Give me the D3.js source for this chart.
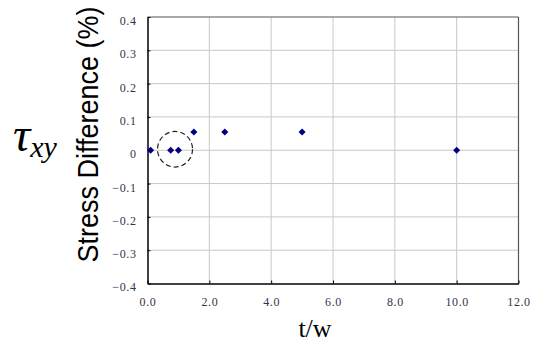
<!DOCTYPE html>
<html><head><meta charset="utf-8">
<script src="https://d3js.org/d3.v7.min.js"></script>
<style>html,body{margin:0;padding:0;background:#fff;}svg{display:block;}
.serif{font-family:'Liberation Serif','Times New Roman','DejaVu Serif',serif;}
.sans{font-family:'Liberation Sans',Arial,sans-serif;}
</style>
</head><body>
<script>
const tw = [0.1, 0.75, 1.0, 1.5, 2.5, 5.0, 10.0];
const stressDiff = [0.0, 0.0, 0.0, 0.055, 0.055, 0.055, 0.0];
const xTicks = [0, 2, 4, 6, 8, 10, 12];
const yTicks = [-0.4, -0.3, -0.2, -0.1, 0, 0.1, 0.2, 0.3, 0.4];
const circled = {x: 0.89, y: 0.0};

const W = 537, H = 349;
const svg = d3.select("body").append("svg").attr("width", W).attr("height", H);
const L = 147.5, R = 518.5, T = 17, B = 283.5;
const x = d3.scaleLinear().domain([0, 12]).range([L, R]);
const y = d3.scaleLinear().domain([-0.4, 0.4]).range([B, T]);

// gridlines
svg.append("g").selectAll("line").data(xTicks.slice(1, -1)).join("line")
  .attr("x1", d => x(d)).attr("x2", d => x(d)).attr("y1", T).attr("y2", B)
  .attr("stroke", "#c8c8c8").attr("stroke-width", 1);
svg.append("g").selectAll("line").data(yTicks.slice(1, -1)).join("line")
  .attr("y1", d => y(d)).attr("y2", d => y(d)).attr("x1", L).attr("x2", R)
  .attr("stroke", "#c8c8c8").attr("stroke-width", 1);

// frame top/right
svg.append("line").attr("x1", L).attr("x2", R).attr("y1", T).attr("y2", T).attr("stroke", "#555").attr("stroke-width", 1.2);
svg.append("line").attr("x1", R).attr("x2", R).attr("y1", T).attr("y2", B).attr("stroke", "#555").attr("stroke-width", 1.2);

// axes
const fmtX = d3.format(".1f");
const fmtY = d => d === 0 ? "0" : d3.format(".1f")(d);
const xAxis = svg.append("g").attr("transform", `translate(0,${B})`)
  .call(d3.axisBottom(x).tickValues(xTicks).tickFormat(fmtX).tickSizeInner(-3).tickSizeOuter(0).tickPadding(14));
const yAxis = svg.append("g").attr("transform", `translate(${L},0)`)
  .call(d3.axisLeft(y).tickValues(yTicks).tickFormat(fmtY).tickSizeInner(-3).tickSizeOuter(0).tickPadding(11));
[xAxis, yAxis].forEach(g => {
  g.attr("font-family", null).attr("font-size", null);
  g.select(".domain").attr("stroke", "#000").attr("stroke-width", 1.5);
  g.selectAll(".tick line").attr("stroke", "#000").attr("stroke-width", 1);
  g.selectAll("text").attr("class", "serif")
    .attr("font-size", 12).attr("fill", "#33334d").attr("letter-spacing", 0.6);
});
yAxis.selectAll("text").attr("dy", "0.62em");

// points (diamonds)
svg.append("g").selectAll("path").data(tw).join("path")
  .attr("transform", (d, i) => `translate(${x(d)},${y(stressDiff[i])})`)
  .attr("d", d3.symbol(d3.symbolDiamond2, 32))
  .attr("fill", "#000080");

// dashed circle annotation
svg.append("ellipse").attr("cx", x(circled.x)).attr("cy", y(circled.y) - 1)
  .attr("rx", 17.5).attr("ry", 17.8)
  .attr("fill", "none").attr("stroke", "#222").attr("stroke-width", 1.2)
  .attr("stroke-dasharray", "5,3");

// axis titles
svg.append("text").attr("class", "serif").attr("x", 315).attr("y", 337).attr("text-anchor", "middle")
  .attr("font-size", 26).attr("fill", "#000").text("t/w");
svg.append("text").attr("class", "sans").attr("transform", "translate(98,134.5) rotate(-90) scale(1,1.1)").attr("text-anchor", "middle")
  .attr("font-size", 27).attr("fill", "#000").text("Stress Difference (%)");

// tau_xy label
const tau = svg.append("text").attr("class", "serif").attr("x", 13).attr("y", 151)
  .attr("font-style", "italic").attr("fill", "#000");
tau.append("tspan").attr("font-size", 48).text("τ");
tau.append("tspan").attr("font-size", 30).attr("dy", 6).text("xy");
</script>
</body></html>
